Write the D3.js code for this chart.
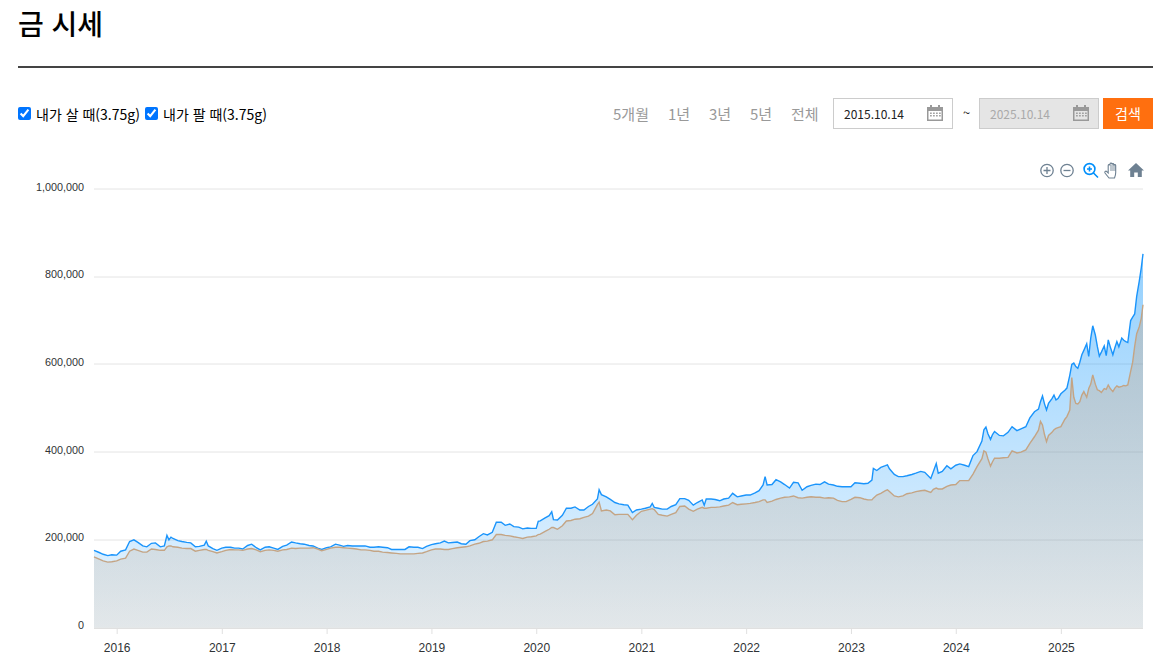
<!DOCTYPE html>
<html lang="ko">
<head>
<meta charset="utf-8">
<title>금 시세</title>
<script src="https://cdn.jsdelivr.net/npm/d3@7/dist/d3.min.js"></script>
<style>
html,body{margin:0;padding:0;background:#fff;width:1167px;height:670px;overflow:hidden;font-family:"Noto Sans CJK KR","Noto Sans",sans-serif;}
.abs{position:absolute;white-space:nowrap;}
#title{left:18px;top:2px;font-size:28px;line-height:42px;font-weight:500;color:#000;}
#rule{left:18px;top:66px;width:1135px;height:2px;background:#444;}
input[type=checkbox]{position:absolute;margin:0;width:13px;height:13px;}
.lab{font-size:14px;line-height:20px;color:#000;top:104px;}
.per{font-size:15px;line-height:22px;color:#999;top:103px;}
.box{box-sizing:border-box;top:98px;width:120px;height:31px;border:1px solid #ccc;font-size:12px;line-height:30px;padding-left:10px;color:#222;}
#go{left:1103px;top:98px;width:50px;height:31px;background:#ff6f0f;color:#fff;font-size:14px;line-height:31px;text-align:center;}
svg{position:absolute;left:0;top:0;}
</style>
</head>
<body>
<div id="root"></div>
<script>
const dates = [
"2015-10-14","2015-11-01","2015-11-15","2015-12-01","2015-12-15",
"2016-01-01","2016-01-15","2016-02-01","2016-02-15","2016-03-01","2016-03-15","2016-04-01","2016-04-15","2016-05-01","2016-05-15","2016-06-01","2016-06-15","2016-06-24","2016-07-01","2016-07-08","2016-07-15","2016-08-01","2016-08-15","2016-09-01","2016-09-15","2016-10-01","2016-10-15","2016-11-01","2016-11-08","2016-11-15","2016-12-01","2016-12-15",
"2017-01-01","2017-01-15","2017-02-01","2017-02-15","2017-03-01","2017-03-15","2017-04-01","2017-04-15","2017-05-01","2017-05-15","2017-06-01","2017-06-15","2017-07-01","2017-07-15","2017-08-01","2017-08-15","2017-09-01","2017-09-15","2017-10-01","2017-10-15","2017-11-01","2017-11-15","2017-12-01","2017-12-15",
"2018-01-01","2018-01-15","2018-02-01","2018-02-15","2018-03-01","2018-03-15","2018-04-01","2018-04-15","2018-05-01","2018-05-15","2018-06-01","2018-06-15","2018-07-01","2018-07-15","2018-08-01","2018-08-15","2018-09-01","2018-09-15","2018-10-01","2018-10-15","2018-11-01","2018-11-15","2018-12-01","2018-12-15",
"2019-01-01","2019-01-15","2019-02-01","2019-02-15","2019-03-01","2019-03-15","2019-04-01","2019-04-15","2019-05-01","2019-05-15","2019-06-01","2019-06-15","2019-07-01","2019-07-15","2019-08-01","2019-08-15","2019-09-01","2019-09-15","2019-10-01","2019-10-15","2019-11-01","2019-11-15","2019-12-01","2019-12-15",
"2020-01-01","2020-01-08","2020-01-15","2020-02-01","2020-02-15","2020-02-24","2020-03-01","2020-03-15","2020-04-01","2020-04-15","2020-05-01","2020-05-15","2020-06-01","2020-06-15","2020-07-01","2020-07-15","2020-08-01","2020-08-07","2020-08-15","2020-09-01","2020-09-15","2020-10-01","2020-10-15","2020-11-01","2020-11-15","2020-12-01","2020-12-15",
"2021-01-01","2021-01-15","2021-02-01","2021-02-08","2021-02-15","2021-03-01","2021-03-15","2021-04-01","2021-04-15","2021-05-01","2021-05-15","2021-06-01","2021-06-15","2021-07-01","2021-07-15","2021-08-01","2021-08-08","2021-08-15","2021-09-01","2021-09-15","2021-10-01","2021-10-15","2021-11-01","2021-11-15","2021-12-01","2021-12-15",
"2022-01-01","2022-01-15","2022-02-01","2022-02-15","2022-03-01","2022-03-08","2022-03-15","2022-04-01","2022-04-15","2022-05-01","2022-05-15","2022-06-01","2022-06-15","2022-07-01","2022-07-15","2022-08-01","2022-08-15","2022-09-01","2022-09-15","2022-10-01","2022-10-15","2022-11-01","2022-11-15","2022-12-01","2022-12-15",
"2023-01-01","2023-01-15","2023-02-01","2023-02-15","2023-03-01","2023-03-15","2023-03-20","2023-04-01","2023-04-15","2023-05-01","2023-05-08","2023-05-15","2023-06-01","2023-06-15","2023-07-01","2023-07-15","2023-08-01","2023-08-15","2023-09-01","2023-09-15","2023-10-06","2023-10-15","2023-10-25","2023-11-01","2023-11-15","2023-12-01","2023-12-15",
"2024-01-01","2024-01-15","2024-02-01","2024-02-15","2024-03-01","2024-03-15","2024-04-01","2024-04-08","2024-04-15","2024-04-22","2024-05-01","2024-05-08","2024-05-15","2024-06-01","2024-06-15","2024-07-01","2024-07-15","2024-08-01","2024-08-15","2024-09-01","2024-09-15","2024-10-01","2024-10-15","2024-10-22","2024-10-29","2024-11-05","2024-11-12","2024-11-19","2024-12-01","2024-12-08","2024-12-15","2024-12-22",
"2025-01-01","2025-01-15","2025-01-22","2025-02-01","2025-02-08","2025-02-15","2025-02-22","2025-03-01","2025-03-08","2025-03-15","2025-03-22","2025-04-01","2025-04-08","2025-04-15","2025-04-22","2025-05-01","2025-05-08","2025-05-15","2025-05-22","2025-06-01","2025-06-08","2025-06-15","2025-06-22","2025-07-01","2025-07-08","2025-07-15","2025-07-22","2025-08-01","2025-08-08","2025-08-15","2025-08-22","2025-09-01","2025-09-08","2025-09-15","2025-09-22","2025-10-01","2025-10-08","2025-10-14"];

// 내가 살 때 (원, 천 단위)
const buyK = [
176,171,167,164,166,
165,174,177,196,200,194,186,184,192,193,184,186,210,200,206,203,198,196,194,193,184,185,188,197,186,180,176,
181,183,183,181,181,179,187,190,182,177,183,184,181,178,185,188,195,193,191,190,187,186,181,178,
182,184,190,188,185,187,186,186,186,186,183,183,184,183,182,178,178,178,178,184,183,183,180,185,
189,191,193,197,193,194,195,191,190,198,200,207,214,211,217,240,240,233,236,230,229,225,227,226,
226,242,243,250,255,264,246,245,256,272,272,275,268,268,276,281,293,314,303,298,292,285,282,280,279,262,268,
270,272,275,283,274,272,270,270,276,280,294,294,290,279,285,291,279,293,293,292,289,293,295,306,298,300,
302,302,307,312,325,344,325,326,337,332,326,318,331,330,313,321,324,327,326,332,327,325,322,321,321,
321,330,329,328,329,336,363,358,365,369,371,362,349,344,344,346,349,352,356,354,340,356,374,352,356,369,362,
370,373,370,367,392,401,425,451,457,442,429,440,447,438,437,445,458,449,453,458,478,492,498,515,528,510,496,511,522,530,519,522,
533,541,546,575,600,603,595,591,605,622,632,647,618,660,688,667,641,619,628,642,620,656,640,622,638,652,640,660,655,652,650,700,708,715,755,790,820,852];

// 내가 팔 때 (원, 천 단위)
const sellK = [
161,156,152,149,150,
152,156,158,174,179,176,172,172,179,178,176,176,184,186,186,184,183,181,180,180,174,176,178,178,176,173,170,
173,176,178,177,177,176,179,180,177,173,176,177,176,174,177,178,181,180,181,181,181,182,179,175,
178,181,183,183,182,181,180,179,177,177,176,174,174,172,171,170,169,168,168,168,168,169,170,173,
177,179,179,178,178,180,182,183,184,186,190,192,196,197,200,212,212,210,209,207,205,203,206,207,
209,212,213,219,224,228,228,224,232,243,244,247,248,251,254,260,280,286,266,268,266,257,258,258,258,246,256,
265,267,270,271,269,258,256,254,258,262,276,277,270,265,270,274,272,272,274,274,275,277,279,285,280,281,
282,283,285,287,291,291,285,288,292,295,297,298,300,296,295,297,298,297,297,295,296,295,290,287,287,
292,297,296,293,291,291,295,302,306,312,314,310,300,298,300,305,307,310,312,313,308,315,318,316,316,322,325,
326,335,335,335,350,367,385,403,400,385,368,378,386,386,387,388,403,398,400,405,420,435,450,470,462,440,424,438,445,451,454,456,
458,475,481,496,570,525,511,510,515,530,538,525,545,555,576,555,542,540,536,545,543,553,545,538,546,551,548,550,552,551,553,584,605,641,670,686,705,736];

const yTicks = [0,200000,400000,600000,800000,1000000];
const xTickYears = [2016,2017,2018,2019,2020,2021,2022,2023,2024,2025];
const periodLabels = ["5개월","1년","3년","5년","전체"];
const periodLefts = [613,668,709,750,791];
const legendLabels = ["내가 살 때(3.75g)","내가 팔 때(3.75g)"];

const parse = d3.utcParse("%Y-%m-%d");
const x = d3.scaleUtc().domain([parse("2015-10-14"),parse("2025-10-14")]).range([94,1143]);
const y = d3.scaleLinear().domain([0,1000000]).range([627.5,189]);

const root = d3.select("#root");
const div = (id,cls,txt)=>root.append("div").attr("id",id).attr("class","abs "+(cls||"")).text(txt||"");

div("title","","금 시세");
div("rule");

[18,145].forEach((l,i)=>{
  root.append("input").attr("type","checkbox").property("checked",true)
    .style("left",l+"px").style("top","107px");
  div(null,"lab",legendLabels[i]).style("left",(i?163:36)+"px");
});
periodLabels.forEach((t,i)=>div(null,"per",t).style("left",periodLefts[i]+"px"));
div(null,"box","2015.10.14").style("left","833px").style("background","#fff");
div(null,"box","2025.10.14").style("left","979px").style("background","#e5e5e5").style("color","#aaa");
div(null,"","~").style("left","963px").style("top","103px").style("font-size","13px").style("color","#222");
div("go","","검색");

const svg = d3.select("body").append("svg").attr("width",1167).attr("height",670);

// 달력 아이콘
[927,1073].forEach(cx=>{
  const g = svg.append("g").attr("transform",`translate(${cx},105)`).attr("fill","#999");
  g.append("path").attr("fill-rule","evenodd").attr("d","M0 2h3V0h2v2h6V0h2v2h3v14H0zM1.5 6v8.5h13V6z");
  [[4,8],[7,8],[10,8],[13,8],[4,10.5],[7,10.5],[10,10.5],[13,10.5]].forEach(p=>
    g.append("rect").attr("x",p[0]-0.9).attr("y",p[1]-0.5).attr("width",1.6).attr("height",1.5));
});

// 그리드
svg.append("g").selectAll("line").data(yTicks).join("line")
  .attr("x1",94).attr("x2",1143).attr("y1",d=>Math.round(y(d))).attr("y2",d=>Math.round(y(d)))
  .attr("stroke","#e4e4e4").attr("stroke-width",1);

const defs = svg.append("defs");
const grad = (id,stops)=>{
  const g = defs.append("linearGradient").attr("id",id).attr("gradientUnits","userSpaceOnUse")
    .attr("x1",0).attr("x2",0).attr("y1",y(d3.max(buyK)*1000)).attr("y2",y(0));
  stops.forEach(s=>g.append("stop").attr("offset",s[0]).attr("stop-color",s[1]).attr("stop-opacity",s[2]));
};
grad("buyFill",[[0,"#008ffb",0.42],[1,"#008ffb",0.09]]);
grad("sellFill",[[0,"#c29a74",0.36],[1,"#c29a74",0.15]]);

const rows = dates.map((d,i)=>({t:parse(d),b:buyK[i]*1000,s:sellK[i]*1000}));
const area = key=>d3.area().x(d=>x(d.t)).y0(y(0)).y1(d=>y(d[key]));
const line = key=>d3.line().x(d=>x(d.t)).y(d=>y(d[key]));

svg.append("path").datum(rows).attr("d",area("b")).attr("fill","url(#buyFill)");
svg.append("path").datum(rows).attr("d",area("s")).attr("fill","url(#sellFill)");
svg.append("path").datum(rows).attr("d",line("b")).attr("fill","none").attr("stroke","#1a94fb").attr("stroke-width",1.4);
svg.append("path").datum(rows).attr("d",line("s")).attr("fill","none").attr("stroke","#c4a484").attr("stroke-width",1.4);

// 축
const ax = svg.append("g").attr("transform",`translate(0,${Math.round(y(0))})`)
  .call(d3.axisBottom(x).tickValues(xTickYears.map(v=>new Date(Date.UTC(v,0,1)))).tickFormat(d3.utcFormat("%Y")).tickSize(6).tickPadding(9));
ax.select(".domain").attr("stroke","#e0e0e0").attr("d","M94,0.5H1143");
ax.selectAll("line").attr("stroke","#e0e0e0");
ax.selectAll("text").attr("font-family","'Liberation Sans',Arial,sans-serif").attr("font-size",12).attr("fill","#2f3335");

const ay = svg.append("g").attr("transform","translate(84,0)")
  .call(d3.axisLeft(y).tickValues(yTicks).tickFormat(d3.format(",")).tickSize(0).tickPadding(0));
ay.select(".domain").remove();
ay.selectAll("text").attr("font-family","'Liberation Sans',Arial,sans-serif").attr("font-size",10.8).attr("fill","#2f3335").attr("dy","0.1em");

// 툴바 아이콘
const tb = svg.append("g").attr("fill","none").attr("stroke","#6e8192").attr("stroke-width",1.3);
tb.append("circle").attr("cx",1047).attr("cy",170.5).attr("r",6.2);
tb.append("path").attr("d","M1043.5 170.5h7M1047 167v7");
tb.append("circle").attr("cx",1067).attr("cy",170.5).attr("r",6.2);
tb.append("path").attr("d","M1063.5 170.5h7");
const zm = svg.append("g").attr("fill","none").attr("stroke","#008ffb").attr("stroke-width",1.6);
zm.append("circle").attr("cx",1089.5).attr("cy",169).attr("r",5.4);
zm.append("path").attr("d","M1087 169h5M1089.5 166.5v5M1093.5 173l4.5 4.5");
svg.append("path").attr("fill","#fff").attr("stroke","#6e8192").attr("stroke-width",1.1)
  .attr("d","M1109 178l-4-5c-.8-1.2.8-2.4 1.8-1.4l1.4 1.4v-7.5c0-1.2 1.8-1.2 1.8 0v-1.5c0-1.2 1.9-1.2 1.9 0v.5c0-1.2 1.9-1.2 1.9 0v1c0-1.1 1.9-1.1 1.9 0v7c0 2.5-.6 4-1.2 5.5z");
svg.append("path").attr("d","M1111 165v6M1113 164v7M1115 165v6").attr("stroke","#6e8192").attr("stroke-width",0.9).attr("fill","none");
svg.append("path").attr("fill","#6e8192").attr("d","M1136 163l-8 7.5h2.2v6.5h4v-4.5h3.6v4.5h4v-6.5h2.2z");
</script>
</body>
</html>
